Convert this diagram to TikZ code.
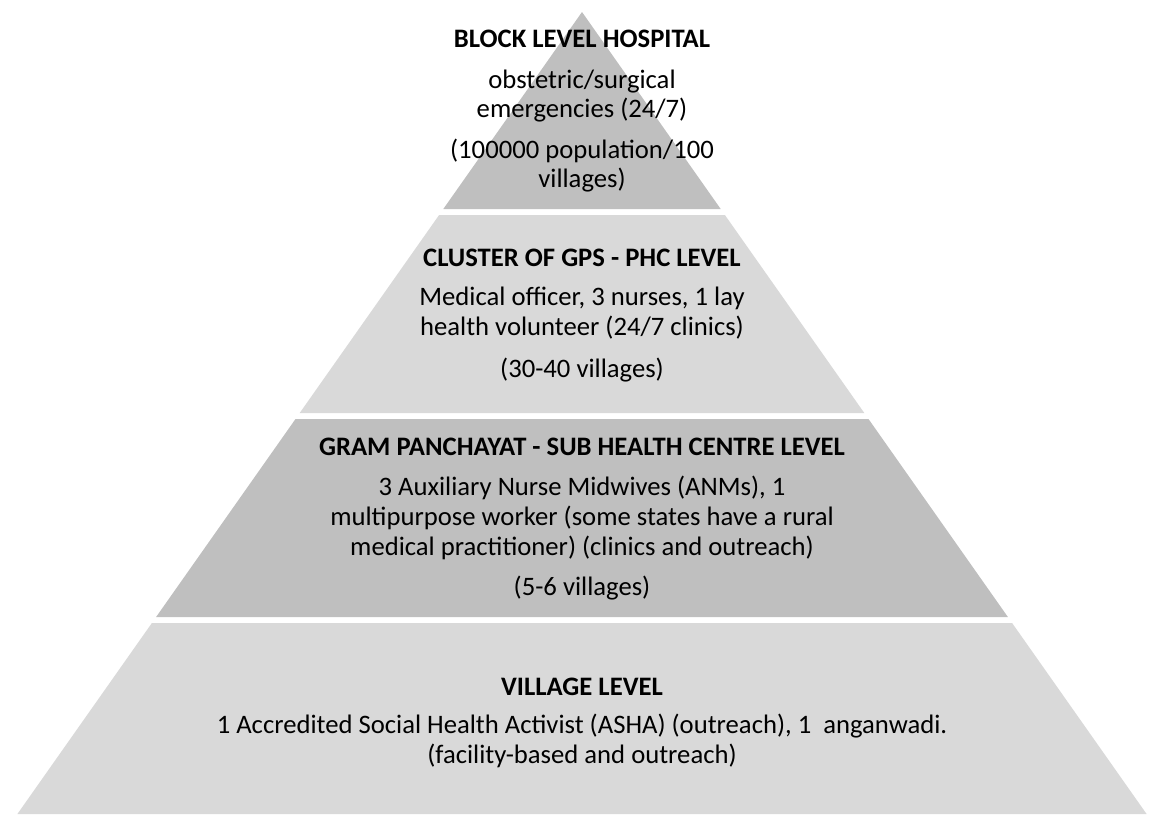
\documentclass[tikz,border=0pt]{standalone}
\usepackage{fontspec}
\setmainfont{Carlito}
\definecolor{darkband}{HTML}{BFBFBF}
\definecolor{lightband}{HTML}{D9D9D9}
\tikzset{
  band/.style={draw=none},
  txt/.style={anchor=base, inner sep=0pt, font=\fontsize{20}{24}\selectfont, text=black},
  ttl/.style={txt, font=\fontsize{20}{24}\selectfont\bfseries},
}
\begin{document}
\begin{tikzpicture}[x=0.75pt,y=-0.75pt]
\useasboundingbox (0,0) rectangle (1152,814);
% bands
\fill[darkband]  (582,12) -- (720.7,209) -- (443.3,209) -- cycle;
\fill[lightband] (439.1,215) -- (724.9,215) -- (864.3,413) -- (299.7,413) -- cycle;
\fill[darkband]  (295.5,419) -- (868.5,419) -- (1007.9,617) -- (156.1,617) -- cycle;
\fill[lightband] (151.9,623) -- (1012.1,623) -- (1146.6,814) -- (17.4,814) -- cycle;
% level 1
\node[ttl] (t1) at (582,47) {BLOCK LEVEL HOSPITAL};
\node[txt] (a1) at (582,88) {obstetric/surgical};
\node[txt] (a2) at (582,117) {emergencies (24/7)};
\node[txt] (a3) at (582,158) {(100000 population/100};
\node[txt] (a4) at (582,187) {villages)};
% level 2
\node[ttl] (t2) at (582,266) {CLUSTER OF GPS - PHC LEVEL};
\node[txt] (b1) at (582,305) {Medical officer, 3 nurses, 1 lay};
\node[txt] (b2) at (582,335) {health volunteer (24/7 clinics)};
\node[txt] (b3) at (582,377) {(30-40 villages)};
% level 3
\node[ttl] (t3) at (582,455) {GRAM PANCHAYAT - SUB HEALTH CENTRE LEVEL};
\node[txt] (c1) at (582,495) {3 Auxiliary Nurse Midwives (ANMs), 1};
\node[txt] (c2) at (582,525) {multipurpose worker (some states have a rural};
\node[txt] (c3) at (582,555) {medical practitioner) (clinics and outreach)};
\node[txt] (c4) at (582,595) {(5-6 villages)};
% level 4
\node[ttl] (t4) at (582,695) {VILLAGE LEVEL};
\node[txt] (d1) at (582,733) {1 Accredited Social Health Activist (ASHA) (outreach), 1\ \ anganwadi.};
\node[txt] (d2) at (582,763) {(facility-based and outreach)};
\end{tikzpicture}
\end{document}
